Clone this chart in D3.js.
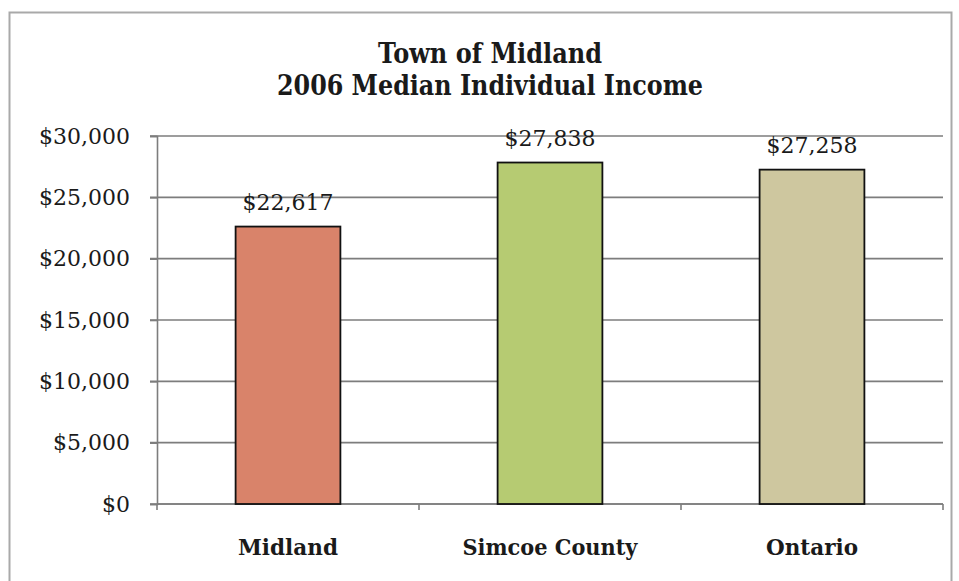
<!DOCTYPE html>
<html>
<head>
<meta charset="utf-8">
<script src="https://cdn.jsdelivr.net/npm/d3@7"></script>
<style>
  body { margin: 0; background: #fff; }
  text { font-family: "DejaVu Serif", serif; fill: #1a1a1a; }
</style>
</head>
<body>
<div id="chart"></div>
<script>
// data
var places = ['Midland', 'Simcoe County', 'Ontario'];
var incomes = [22617, 27838, 27258];
var valueLabels = ['$22,617', '$27,838', '$27,258'];
var yTicks = [0, 5000, 10000, 15000, 20000, 25000, 30000];
var titleLines = ['Town of Midland', '2006 Median Individual Income'];

var barColors = ['#d9836a', '#b6cb72', '#cec79f'];
var labelWidths = [100, 175, 92];

var W = 959, H = 581;

var svg = d3.select('#chart').append('svg')
  .attr('width', W)
  .attr('height', H);

// outer chart border
svg.append('rect')
  .attr('x', 9.5).attr('y', 12.5)
  .attr('width', 942).attr('height', 600)
  .attr('fill', '#fff')
  .attr('stroke', '#a9a9a9')
  .attr('stroke-width', 2);

var x = d3.scaleBand()
  .domain(places)
  .range([157, 943])
  .paddingInner(0.6)
  .paddingOuter(0.3);

var y = d3.scaleLinear()
  .domain([0, 30000])
  .range([504, 136]);

// gridlines
svg.append('g')
  .selectAll('line')
  .data(yTicks)
  .enter()
  .append('line')
  .attr('x1', 150)
  .attr('x2', 943)
  .attr('y1', function(d) { return y(d); })
  .attr('y2', function(d) { return y(d); })
  .attr('stroke', '#7d7d7d')
  .attr('stroke-width', 1.6);

// y axis
var yAxis = d3.axisLeft(y)
  .tickValues(yTicks)
  .tickSize(7)
  .tickPadding(20)
  .tickFormat(function(d) { return '$' + d3.format(',')(d); });

var yG = svg.append('g')
  .attr('transform', 'translate(157,0)')
  .call(yAxis);
yG.select('.domain').attr('stroke', '#7d7d7d').attr('stroke-width', 1.6);
yG.selectAll('.tick line').attr('stroke', '#7d7d7d').attr('stroke-width', 1.6);
yG.selectAll('.tick text')
  .style('font-family', '"DejaVu Serif", serif')
  .style('font-size', '22px')
  .attr('fill', '#1a1a1a');

// x axis line with category separators
var sepData = d3.range(places.length + 1);
svg.append('line')
  .attr('x1', 157).attr('x2', 943)
  .attr('y1', y(0)).attr('y2', y(0))
  .attr('stroke', '#7d7d7d')
  .attr('stroke-width', 1.6);
svg.append('g')
  .selectAll('line')
  .data(sepData)
  .enter()
  .append('line')
  .attr('x1', function(d) { return 157 + d * (786 / places.length); })
  .attr('x2', function(d) { return 157 + d * (786 / places.length); })
  .attr('y1', y(0))
  .attr('y2', y(0) + 6)
  .attr('stroke', '#7d7d7d')
  .attr('stroke-width', 1.6);

// bars
svg.append('g')
  .selectAll('rect')
  .data(incomes)
  .enter()
  .append('rect')
  .attr('x', function(d, i) { return x(places[i]); })
  .attr('y', function(d) { return y(d); })
  .attr('width', x.bandwidth())
  .attr('height', function(d) { return y(0) - y(d); })
  .attr('fill', function(d, i) { return barColors[i]; })
  .attr('stroke', '#111')
  .attr('stroke-width', 1.8);

// value labels
svg.append('g')
  .selectAll('text')
  .data(incomes)
  .enter()
  .append('text')
  .attr('x', function(d, i) { return x(places[i]) + x.bandwidth() / 2; })
  .attr('y', function(d) { return y(d) - 16.5; })
  .attr('text-anchor', 'middle')
  .style('font-size', '22px')
  .text(function(d, i) { return valueLabels[i]; });

// category labels
svg.append('g')
  .selectAll('text')
  .data(places)
  .enter()
  .append('text')
  .attr('x', function(d) { return x(d) + x.bandwidth() / 2; })
  .attr('y', 555)
  .attr('text-anchor', 'middle')
  .attr('textLength', function(d, i) { return labelWidths[i]; })
  .attr('lengthAdjust', 'spacingAndGlyphs')
  .style('font-size', '23px')
  .style('font-weight', 'bold')
  .text(function(d) { return d; });

// title
svg.append('g')
  .selectAll('text')
  .data(titleLines)
  .enter()
  .append('text')
  .attr('x', 490)
  .attr('y', function(d, i) { return 63 + i * 32; })
  .attr('text-anchor', 'middle')
  .attr('textLength', function(d, i) { return i == 0 ? 224 : 426; })
  .attr('lengthAdjust', 'spacingAndGlyphs')
  .style('font-size', '27px')
  .style('font-weight', 'bold')
  .text(function(d) { return d; });
</script>
</body>
</html>
